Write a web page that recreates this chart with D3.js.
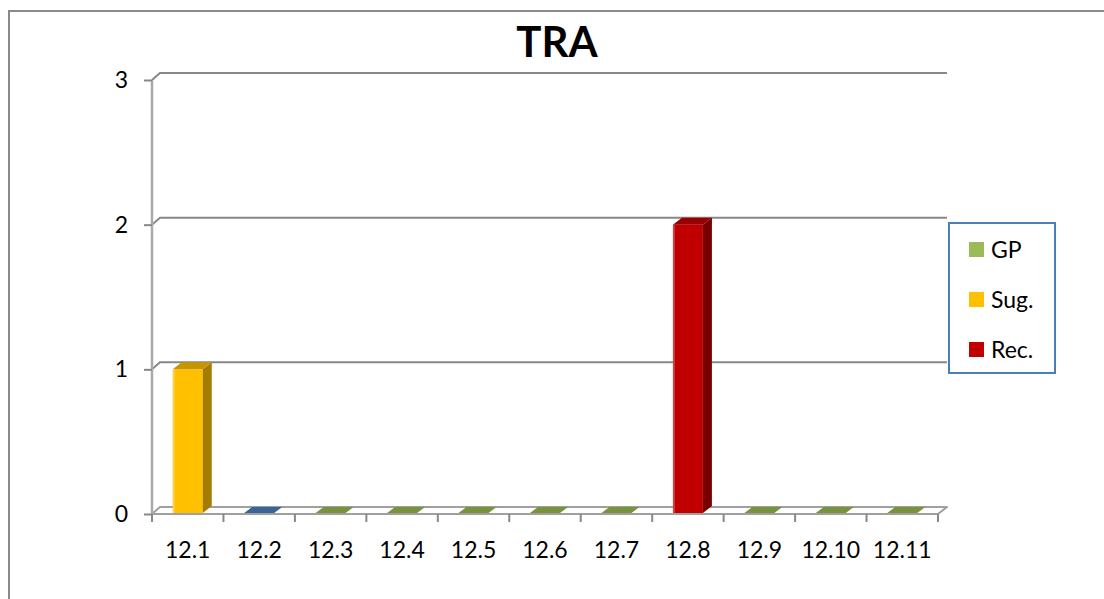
<!DOCTYPE html>
<html>
<head>
<meta charset="utf-8">
<script src="https://cdn.jsdelivr.net/npm/d3@7"></script>
<style>
  html, body { margin: 0; padding: 0; background: #fff; }
  svg { display: block; }
  text { font-family: Lato, "Liberation Sans", sans-serif; fill: #000; }
</style>
</head>
<body>
<svg id="chart" width="1104" height="599"></svg>
<script>
// Chart data
const title = "TRA";
const categories = ["12.1", "12.2", "12.3", "12.4", "12.5", "12.6", "12.7", "12.8", "12.9", "12.10", "12.11"];
const values = [1, 0, 0, 0, 0, 0, 0, 2, 0, 0, 0];
const status = ["Sug.", "Other", "GP", "GP", "GP", "GP", "GP", "Rec.", "GP", "GP", "GP"];
const yTicks = [0, 1, 2, 3];
const legendItems = ["GP", "Sug.", "Rec."];

// Face colours per series: front, side, top, flat (zero-height top)
const palette = {
  "GP":    { front: "#9bbb59", side: "#5f7530", top: "#77933c", flat: "#77933c" },
  "Sug.":  { front: "#ffc000", side: "#a47c00", top: "#c79500", flat: "#c79500" },
  "Rec.":  { front: "#c00000", side: "#760000", top: "#970000", flat: "#970000" },
  "Other": { front: "#4f81bd", side: "#2c4d75", top: "#3a6496", flat: "#3a6496" }
};

const svg = d3.select("#chart");

// Outer chart-area frame
svg.append("rect")
  .attr("x", 9).attr("y", 11)
  .attr("width", 1200).attr("height", 700)
  .attr("fill", "none").attr("stroke", "#8a8a8a").attr("stroke-width", 2);

// Plot geometry (front plane) and depth offset for the 3D look
const x0 = 152, x1 = 938;
const dx = 9, dy = -7;

const x = d3.scaleBand().domain(categories).range([x0, x1]).paddingInner(0).paddingOuter(0);
const y = d3.scaleLinear().domain([0, 3]).range([514, 80]);

const barW = 30;

// Floor
const floor = svg.append("g");
floor.append("path")
  .attr("d", `M${x0},${y(0)} L${x1},${y(0)} L${x1 + dx},${y(0) + dy} L${x0 + dx - 1},${y(0) + dy} Z`)
  .attr("fill", "#fff").attr("stroke", "#a0a0a0").attr("stroke-width", 2).attr("stroke-linejoin", "round");

// Back-wall gridlines with the short diagonal into the left wall
const grid = svg.append("g");
yTicks.filter(t => t > 0).forEach(t => {
  grid.append("path")
    .attr("d", `M${x0},${y(t)} L${x0 + dx - 1},${y(t) + dy} L${x1 + dx},${y(t) + dy}`)
    .attr("fill", "none").attr("stroke", "#888").attr("stroke-width", 2);
});

// Left wall edge
svg.append("line")
  .attr("x1", x0).attr("x2", x0).attr("y1", y(3)).attr("y2", y(0))
  .attr("stroke", "#aaa").attr("stroke-width", 2.5);

// Y axis ticks and labels
const yAxis = d3.axisLeft(y).tickValues(yTicks).tickSize(8).tickPadding(16).tickFormat(d3.format("d"));
const gy = svg.append("g").attr("transform", `translate(${x0},0)`).call(yAxis);
gy.select(".domain").remove();
gy.selectAll(".tick line").attr("stroke", "#888").attr("stroke-width", 2);
gy.selectAll(".tick text")
  .style("font-family", "Lato, 'Liberation Sans', sans-serif")
  .style("font-size", "23px").attr("fill", "#000");

// X axis ticks (at category boundaries) and labels
const bounds = categories.map(c => x(c)).concat([x1]);
const xt = svg.append("g");
bounds.forEach(b => {
  xt.append("line")
    .attr("x1", b).attr("x2", b).attr("y1", y(0)).attr("y2", y(0) + 8)
    .attr("stroke", "#888").attr("stroke-width", 2);
});
xt.selectAll("text.xl").data(categories).join("text")
  .attr("class", "xl")
  .attr("x", d => x(d) + x.bandwidth() / 2)
  .attr("y", 558)
  .attr("text-anchor", "middle")
  .style("font-size", "23px")
  .text(d => d);

// Bars
const bars = svg.append("g");
categories.forEach((c, i) => {
  const v = values[i];
  const col = palette[status[i]];
  const cx = x(c) + x.bandwidth() / 2;
  const bx = cx - barW / 2;
  const yb = y(0) - 1;
  const yt = y(v);
  if (v > 0) {
    // front face
    bars.append("rect").attr("x", bx).attr("y", yt).attr("width", barW).attr("height", yb - yt)
      .attr("fill", col.front);
    // soft highlight on the left edge
    bars.append("rect").attr("x", bx).attr("y", yt).attr("width", 2).attr("height", yb - yt)
      .attr("fill", "#fff").attr("opacity", 0.25);
    // side face
    bars.append("path")
      .attr("d", `M${bx + barW},${yt} L${bx + barW + dx},${yt + dy} L${bx + barW + dx},${yb + dy} L${bx + barW},${yb} Z`)
      .attr("fill", col.side);
    // top face
    bars.append("path")
      .attr("d", `M${bx},${yt} L${bx + dx},${yt + dy} L${bx + barW + dx},${yt + dy} L${bx + barW},${yt} Z`)
      .attr("fill", col.top);
  } else {
    // zero-height bar: only the flat top face on the floor
    bars.append("path")
      .attr("d", `M${bx},${yb} L${bx + dx - 1},${yb + dy + 1} L${bx + barW + dx - 1},${yb + dy + 1} L${bx + barW},${yb} Z`)
      .attr("fill", col.flat);
  }
});

// Title
svg.append("text")
  .attr("x", 557).attr("y", 57)
  .attr("text-anchor", "middle")
  .style("font-size", "42px").style("font-weight", "bold")
  .text(title);

// Legend
const lg = svg.append("g");
lg.append("rect").attr("x", 949).attr("y", 223).attr("width", 106).attr("height", 150)
  .attr("fill", "#fff").attr("stroke", "#4a7ebb").attr("stroke-width", 2);
const legendY = d3.scalePoint().domain(legendItems).range([249, 349]);
legendItems.forEach(name => {
  const cy = legendY(name);
  lg.append("rect").attr("x", 969).attr("y", cy - 7).attr("width", 15).attr("height", 15)
    .attr("fill", palette[name].front);
  lg.append("text").attr("x", 991).attr("y", cy)
    .attr("dominant-baseline", "central")
    .style("font-size", "23px")
    .text(name);
});
</script>
</body>
</html>
